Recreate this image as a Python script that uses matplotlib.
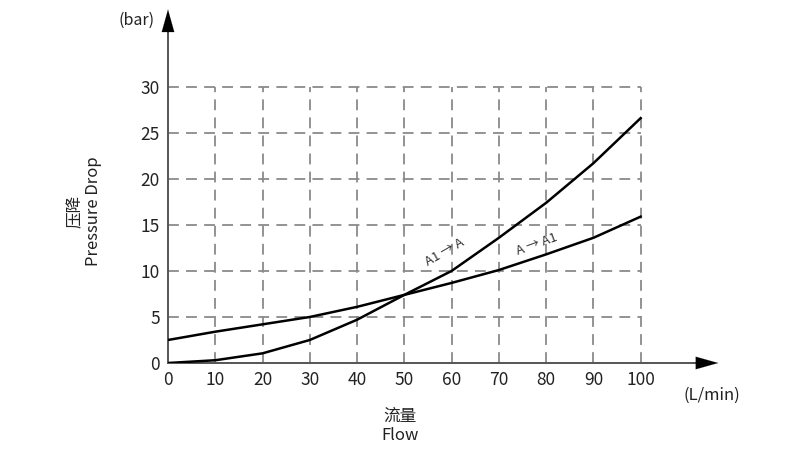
import matplotlib.pyplot as plt
import numpy as np

flow = [0, 10, 20, 30, 40, 50, 60, 70, 80, 90, 100]
# A1 -> A (steep curve)
drop_a1_a = [0.0, 0.3, 1.05, 2.5, 4.7, 7.4, 10.0, 13.6, 17.4, 21.7, 26.6]
# A -> A1 (flatter curve)
drop_a_a1 = [2.5, 3.4, 4.2, 5.0, 6.1, 7.4, 8.7, 10.1, 11.8, 13.6, 15.9]

x_ticks = [0, 10, 20, 30, 40, 50, 60, 70, 80, 90, 100]
y_ticks = [0, 5, 10, 15, 20, 25, 30]

fam = ['Liberation Sans Narrow', 'Noto Sans CJK SC', 'DejaVu Sans']
plt.rcParams['font.family'] = fam

fig = plt.figure(figsize=(8, 4.51), dpi=100)
ax = fig.add_axes([168 / 800, 88 / 451, 553 / 800, 359 / 451])
ax.set_xlim(0, 117)
ax.set_ylim(0, 39)
for s in ax.spines.values():
    s.set_visible(False)

grid_c = '#8a8a8a'
ax.hlines(y_ticks[1:], 0, 100, colors=grid_c, linestyles=(0, (6, 4)), lw=1.3)
ax.vlines(x_ticks[1:], 0, 30, colors=grid_c, linestyles=(0, (6, 4)), lw=1.3)

# axes with arrows
axis_c = '#555555'
ax.plot([0, 112], [0, 0], color=axis_c, lw=1.4, clip_on=False)
ax.plot([0, 0], [0, 36], color=axis_c, lw=1.4, clip_on=False)
ax.annotate('', xy=(117, 0), xytext=(110.5, 0),
            arrowprops=dict(arrowstyle='-|>,head_length=1.6,head_width=0.45', color='black', lw=0.1),
            annotation_clip=False)
ax.annotate('', xy=(0, 38.7), xytext=(0, 35.5),
            arrowprops=dict(arrowstyle='-|>,head_length=1.6,head_width=0.45', color='black', lw=0.1),
            annotation_clip=False)

ax.plot(flow, drop_a1_a, color='black', lw=1.8)
ax.plot(flow, drop_a_a1, color='black', lw=1.8)

ax.set_xticks(x_ticks)
ax.set_yticks(y_ticks)
ax.tick_params(length=0, labelsize=12.5, colors='#222222', pad=6)

ax.text(58.5, 12.0, 'A1 \u2192 A', rotation=30, fontsize=9.5, color='#333333',
        ha='center', va='center')
ax.text(78.0, 12.9, 'A \u2192 A1', rotation=20, fontsize=9.5, color='#333333',
        ha='center', va='center')

fig.text(137 / 800, 1 - 20 / 451, '(bar)', fontsize=11.5, ha='center', va='center', color='#222222')
fig.text(712 / 800, 1 - 395 / 451, '(L/min)', fontsize=12, ha='center', va='center', color='#222222')
fig.text(84 / 800, 1 - 211 / 451, '压降\nPressure Drop', rotation=90, fontsize=12,
         ha='center', va='center', color='#222222', linespacing=1.1)
fig.text(400 / 800, 1 - 426 / 451, '流量\nFlow', fontsize=12,
         ha='center', va='center', color='#222222', linespacing=1.15)

fig.savefig('out.png', dpi=100, facecolor='white')
